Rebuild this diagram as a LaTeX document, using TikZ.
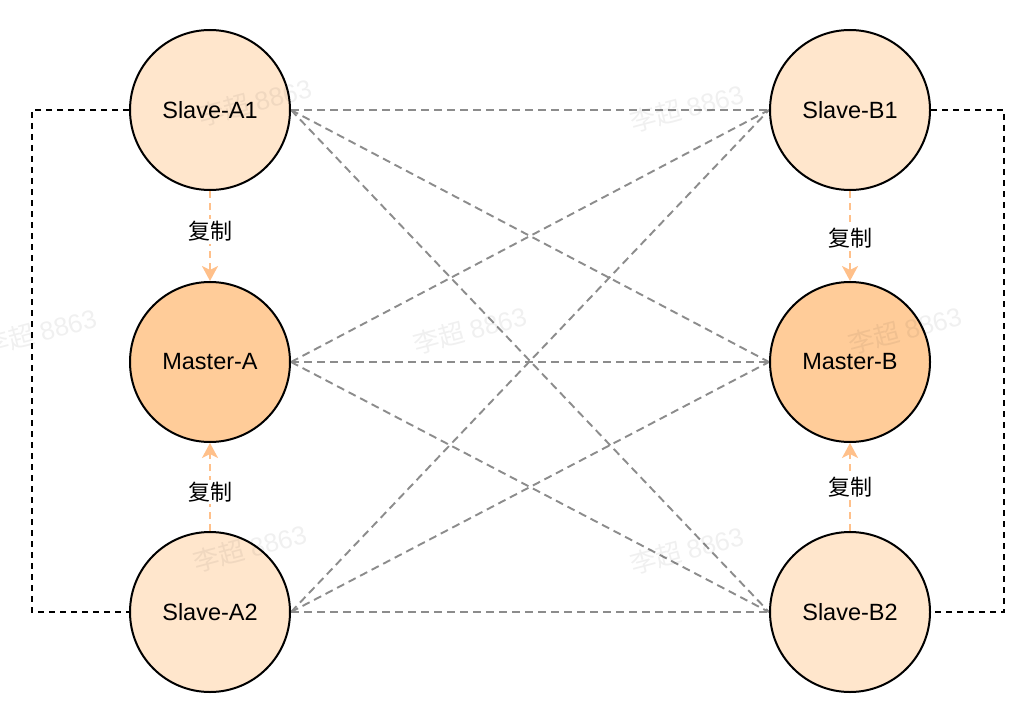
\documentclass[tikz,border=0pt]{standalone}
\usepackage{fontspec}
\setmainfont{Liberation Sans}
\newfontfamily\cjk{Noto Sans CJK SC}
\usetikzlibrary{arrows.meta,backgrounds}
\definecolor{slavefill}{HTML}{FFE6CC}
\definecolor{masterfill}{HTML}{FFCC99}
\definecolor{repl}{HTML}{FFC08A}
\definecolor{linkgray}{HTML}{8C8C8C}
\tikzset{
  slave/.style={circle,draw=black,line width=2pt,fill=slavefill,minimum size=160pt,inner sep=0pt,font=\fontsize{23.5}{27}\selectfont},
  master/.style={circle,draw=black,line width=2pt,fill=masterfill,minimum size=160pt,inner sep=0pt,font=\fontsize{23.5}{27}\selectfont},
  link/.style={draw=linkgray,line width=1.9pt,dash pattern=on 8pt off 5pt},
  ring/.style={draw=black,line width=1.9pt,dash pattern=on 6pt off 5pt},
  replarrow/.style={draw=repl,line width=1.9pt,dash pattern=on 7pt off 5pt,-{Stealth[length=15pt,width=16pt,inset=4pt]}},
  repllabel/.style={fill=white,inner sep=2pt,font=\cjk\fontsize{22}{26}\selectfont},
  watermark/.style={text=black,text opacity=0.06,rotate=15,font=\fontsize{26}{30}\selectfont}
}
\begin{document}
\begin{tikzpicture}[x=1pt,y=-1pt]
\useasboundingbox (0,0) rectangle (1032,722);
\node[slave]  (a1) at (210,110) {Slave-A1};
\node[master] (ma) at (210,362) {Master-A};
\node[slave]  (a2) at (210,612) {Slave-A2};
\node[slave]  (b1) at (850,110) {Slave-B1};
\node[master] (mb) at (850,362) {Master-B};
\node[slave]  (b2) at (850,612) {Slave-B2};
\begin{scope}[on background layer]
\fill[white] (0,0) rectangle (1032,722);
\foreach \s in {a1,ma,a2}
  \foreach \t in {b1,mb,b2}
    \draw[link] (\s.east) -- (\t.west);
\end{scope}
% outer rings
\coordinate (la1) at (32,110);
\coordinate (la2) at (32,612);
\coordinate (rb1) at (1004,110);
\coordinate (rb2) at (1004,612);
\draw[ring] (a1.west) -- (la1) -- (la2) -- (a2.west);
\draw[ring] (b1.east) -- (rb1) -- (rb2) -- (b2.east);
% replication
\draw[replarrow] (a1.south) -- (ma.north) node[pos=0.45,repllabel] (ra1) {复制};
\draw[replarrow] (b1.south) -- (mb.north) node[pos=0.52,repllabel] (rb1l) {复制};
\draw[replarrow] (a2.north) -- (ma.south) node[pos=0.44,repllabel] (ra2) {复制};
\draw[replarrow] (b2.north) -- (mb.south) node[pos=0.5,repllabel] (rb2l) {复制};
% watermarks
\foreach \p/\q in {255/102,687/108,40/332,470/330,905/330,250/548,687/550}
  \node[watermark] (wm\p) at (\p,\q) {\cjk 李超\ \rmfamily 8863};
\end{tikzpicture}
\end{document}
